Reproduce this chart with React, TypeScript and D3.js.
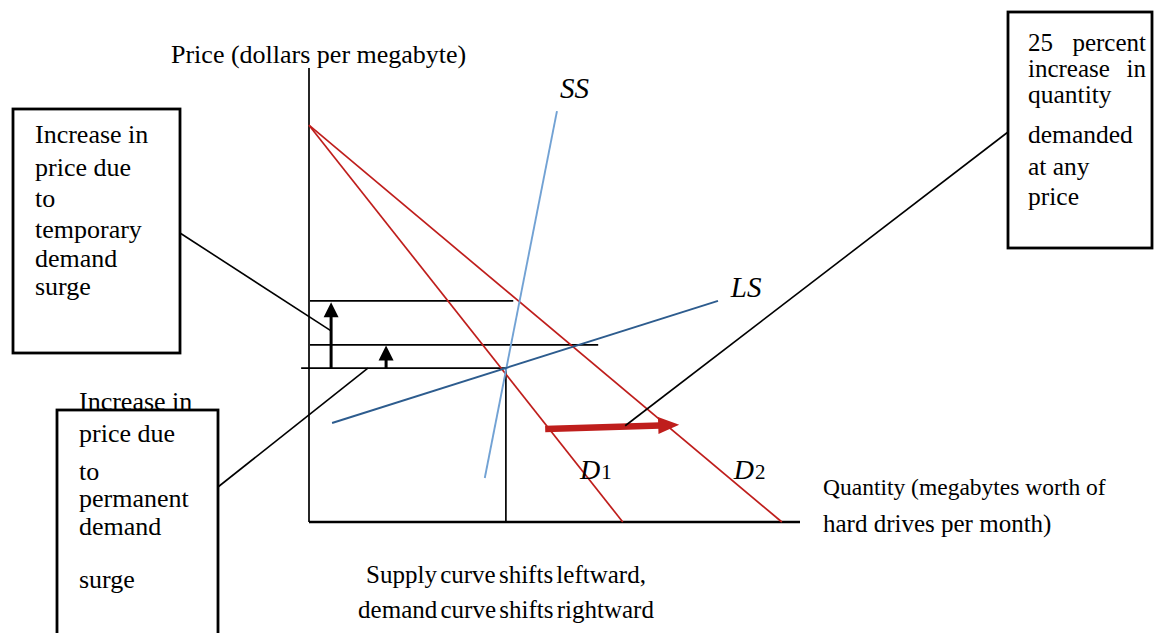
import React from "react";
import * as d3 from "d3";

// ---- data (economic units: quantity 0..100, price 0..100) ----
const demand1 = [{ q: 0, p: 87.4 }, { q: 63.9, p: 0 }];
const demand2 = [{ q: 0, p: 87.4 }, { q: 96.3, p: 0 }];
const shortRunSupply = [{ q: 35.8, p: 9.7 }, { q: 50.5, p: 90.5 }];
const longRunSupply = [{ q: 4.7, p: 21.8 }, { q: 83.3, p: 48.7 }];
const equilibriumQ = 40.1;
const priceLevels = [
  { name: "temporary", p: 48.7, q0: 0.2, q1: 41.6 },
  { name: "permanent", p: 39.0, q0: 0.2, q1: 58.9 },
  { name: "initial", p: 33.9, q0: -1.6, q1: 40.1 },
];
const priceArrows = [
  { q: 4.5, from: 33.9, to: 48.4 },
  { q: 15.7, from: 33.9, to: 38.9 },
];
const shiftArrow = [{ q: 48.1, p: 20.5 }, { q: 75.4, p: 21.4 }];
const curveLabels = [
  { main: "SS", sub: "", q: 51.1, p: 93.4 },
  { main: "LS", sub: "", q: 85.9, p: 49.6 },
  { main: "D", sub: "1", q: 55.2, p: 9.5 },
  { main: "D", sub: "2", q: 86.5, p: 9.5 },
];
const tempBoxLines = ["Increase in", "price due", "to", "temporary", "demand", "surge"];
const tempBoxBaselines = [143, 176, 207, 238, 267, 295];
const permBoxLines = ["Increase in", "price due", "to", "permanent", "demand", "surge"];
const permBoxBaselines = [410, 442, 480, 507, 535, 588];
const rightBoxLines = [["25", "percent"], ["increase", "in"], ["quantity"], ["demanded"], ["at any"], ["price"]];
const rightBoxBaselines = [51, 77, 103, 143, 175, 205];
const yAxisTitle = "Price (dollars per megabyte)";
const xAxisTitle = ["Quantity (megabytes worth of", "hard drives per month)"];
const caption = ["Supply curve shifts leftward,", "demand curve shifts rightward"];
const tempAnchor = { q: 4.5, p: 42.1 };
const permAnchor = { q: 12.0, p: 33.9 };
const shiftAnchor = { q: 64.4, p: 21.2 };

const W = 1155;
const H = 633;
const FONT = "'Liberation Serif', 'Times New Roman', serif";

export default function App() {
  const x = d3.scaleLinear().domain([0, 100]).range([309, 800]);
  const y = d3.scaleLinear().domain([0, 100]).range([522, 68]);
  const line = d3
    .line<{ q: number; p: number }>()
    .x((d) => x(d.q))
    .y((d) => y(d.p));

  const red = "#bf1e1c";

  const arrowHead = (tx: number, ty: number, w: number, h: number) =>
    `M${tx},${ty} L${tx - w / 2},${ty + h} L${tx + w / 2},${ty + h} Z`;

  const sx0 = x(shiftArrow[0].q), sy0 = y(shiftArrow[0].p);
  const sx1 = x(shiftArrow[1].q), sy1 = y(shiftArrow[1].p);
  const ang = Math.atan2(sy1 - sy0, sx1 - sx0);
  const headLen = 21, headW = 17;
  const bx = sx1 - headLen * Math.cos(ang), by = sy1 - headLen * Math.sin(ang);
  const nx = -Math.sin(ang), ny = Math.cos(ang);

  return (
    <svg
      width={W}
      height={H}
      style={{ position: "absolute", left: 0, top: 0, background: "#fff" }}
      fontFamily={FONT}
    >
      <rect x={0} y={0} width={W} height={H} fill="#fff" />

      {/* axes */}
      <line x1={x(0)} y1={y(0)} x2={x(0)} y2={y(100)} stroke="#000" strokeWidth={1.7} />
      <line x1={x(0)} y1={y(0)} x2={x(100)} y2={y(0)} stroke="#000" strokeWidth={2.4} />
      <text x={171} y={63} fontSize={26} fill="#000">{yAxisTitle}</text>
      {xAxisTitle.map((t, i) => (
        <text key={t} x={823} y={495 + i * 37} fontSize={i === 0 ? 23.5 : 25} fill="#000">{t}</text>
      ))}

      {/* price level lines */}
      {priceLevels.map((l) => (
        <line key={l.name} x1={x(l.q0)} y1={y(l.p)} x2={x(l.q1)} y2={y(l.p)} stroke="#000" strokeWidth={1.8} />
      ))}
      <line x1={x(equilibriumQ)} y1={y(priceLevels[2].p)} x2={x(equilibriumQ)} y2={y(0)} stroke="#000" strokeWidth={1.7} />

      {/* price arrows */}
      {priceArrows.map((a, i) => (
        <g key={i}>
          <line x1={x(a.q)} y1={y(a.from)} x2={x(a.q)} y2={y(a.to) + 10} stroke="#000" strokeWidth={3} />
          <path d={arrowHead(x(a.q), y(a.to), 15, 15)} fill="#000" />
        </g>
      ))}

      {/* curves */}
      <path d={line(demand1) ?? ""} stroke={red} strokeWidth={1.7} fill="none" />
      <path d={line(demand2) ?? ""} stroke={red} strokeWidth={1.7} fill="none" />
      <path d={line(shortRunSupply) ?? ""} stroke="#72a2d4" strokeWidth={1.9} fill="none" />
      <path d={line(longRunSupply) ?? ""} stroke="#2d5c8e" strokeWidth={1.9} fill="none" />

      {/* shift arrow */}
      <line x1={sx0} y1={sy0} x2={bx + 2 * Math.cos(ang)} y2={by + 2 * Math.sin(ang)} stroke={red} strokeWidth={6.5} />
      <path
        d={`M${sx1},${sy1} L${bx + nx * headW / 2},${by + ny * headW / 2} L${bx - nx * headW / 2},${by - ny * headW / 2} Z`}
        fill={red}
      />

      {/* curve labels */}
      {curveLabels.map((c, i) => (
        <text key={i} x={x(c.q)} y={y(c.p)} fill="#000">
          <tspan fontStyle="italic" fontSize={c.sub ? 28 : 29}>{c.main}</tspan>
          {c.sub && <tspan fontSize={21} dx={1}>{c.sub}</tspan>}
        </text>
      ))}

      {/* leader lines */}
      <line x1={180} y1={233} x2={x(tempAnchor.q)} y2={y(tempAnchor.p)} stroke="#000" strokeWidth={1.6} />
      <line x1={218} y1={487} x2={x(permAnchor.q)} y2={y(permAnchor.p)} stroke="#000" strokeWidth={1.6} />
      <line x1={x(shiftAnchor.q)} y1={y(shiftAnchor.p)} x2={1008} y2={132} stroke="#000" strokeWidth={1.6} />

      {/* temporary box */}
      <rect x={13} y={109} width={167} height={244} fill="none" stroke="#000" strokeWidth={2.8} />
      {tempBoxLines.map((t, i) => (
        <text key={i} x={35} y={tempBoxBaselines[i]} fontSize={26} fill="#000">{t}</text>
      ))}

      {/* permanent box */}
      <rect x={57} y={410} width={161} height={240} fill="none" stroke="#000" strokeWidth={2.8} />
      {permBoxLines.map((t, i) => (
        <text key={i} x={79} y={permBoxBaselines[i]} fontSize={26} fill="#000">{t}</text>
      ))}

      {/* right box */}
      <rect x={1008} y={12} width={144} height={236} fill="none" stroke="#000" strokeWidth={2.8} />
      {rightBoxLines.map((words, i) =>
        words.length === 2 ? (
          <g key={i}>
            <text x={1028} y={rightBoxBaselines[i]} fontSize={25} fill="#000">{words[0]}</text>
            <text x={1146} y={rightBoxBaselines[i]} fontSize={25} textAnchor="end" fill="#000">{words[1]}</text>
          </g>
        ) : (
          <text key={i} x={1028} y={rightBoxBaselines[i]} fontSize={25.5} fill="#000">{words[0]}</text>
        )
      )}

      {/* caption */}
      {caption.map((t, i) => (
        <text key={i} x={506} y={583 + i * 35} fontSize={25} textAnchor="middle" wordSpacing={-3} fill="#000">{t}</text>
      ))}
    </svg>
  );
}
